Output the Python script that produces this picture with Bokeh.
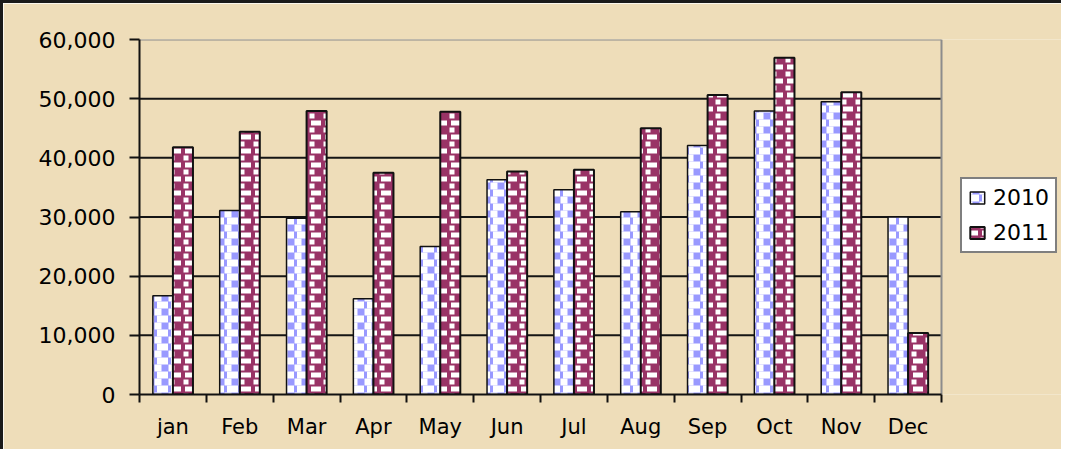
from bokeh.plotting import figure
from bokeh.models import (ColumnDataSource, Range1d, FixedTicker, NumeralTickFormatter,
                          Legend, LegendItem)
from bokeh.transform import dodge
from bokeh.embed import file_html
from bokeh.resources import INLINE

# ---- data ----
months = ["jan", "Feb", "Mar", "Apr", "May", "Jun", "Jul", "Aug", "Sep", "Oct", "Nov", "Dec"]
sales_2010 = [16700, 31100, 29800, 16200, 25000, 36300, 34600, 30900, 42100, 47900, 49500, 30000]
sales_2011 = [41800, 44400, 47900, 37500, 47800, 37700, 38000, 45000, 50600, 56900, 51100, 10400]
series_names = ["2010", "2011"]
y_ticks = [0, 10000, 20000, 30000, 40000, 50000, 60000]

n = len(months)
y_max = y_ticks[-1]
centers = [i + 0.5 for i in range(n)]
boundaries = list(range(n + 1))
src = ColumnDataSource(dict(x=centers, month=months, s2010=sales_2010, s2011=sales_2011))

PARCH = "#EEDDB9"
FONT = "DejaVu Sans"
BLUE = "#9999FF"
MAROON = "#993366"

# layout: the plotting frame runs to the right edge of the canvas so that the
# legend (placed to the right of the bar area) is not clipped
CANVAS_W, CANVAS_H = 1061, 449
LEFT, TOP, BOTTOM = 136, 36, 58
BAR_AREA_W = 802                      # pixel width of the 12 month slots
FRAME_W = CANVAS_W - LEFT
x_end = n * FRAME_W / BAR_AREA_W

p = figure(width=CANVAS_W, height=CANVAS_H, output_backend="svg", toolbar_location=None,
           x_range=Range1d(0, x_end), y_range=Range1d(0, y_max),
           min_border_left=LEFT, min_border_right=0, min_border_top=TOP, min_border_bottom=BOTTOM,
           background_fill_color=PARCH, border_fill_color=PARCH,
           outline_line_color=None,
           styles={"border-top": "3px solid #1a1a1a", "border-left": "3px solid #1a1a1a"})

# horizontal grid lines (only across the month slots)
grid_y = y_ticks[1:-1]
p.segment(x0=[0] * len(grid_y), x1=[n] * len(grid_y), y0=grid_y, y1=grid_y,
          line_color="#151515", line_width=2)
# grey plot-area border (top and right)
p.segment(x0=[0, n], x1=[n, n], y0=[y_max, 0], y1=[y_max, y_max],
          line_color="#8C8C8C", line_width=2)

x2010 = dodge("x", -0.15, range=p.x_range)
x2011 = dodge("x", 0.15, range=p.x_range)

# 2010: blue / white checkerboard (cross + centre dash layered)
r1a = p.vbar(x=x2010, top="s2010", width=0.3, source=src,
             fill_color="#FFFFFF", line_color=None,
             hatch_pattern="cross", hatch_color=BLUE, hatch_scale=14, hatch_weight=7)
r1b = p.vbar(x=x2010, top="s2010", width=0.3, source=src,
             fill_alpha=0, line_color="#111111", line_width=1.5,
             hatch_pattern="horizontal_dash", hatch_color="#FFFFFF", hatch_scale=14, hatch_weight=7)

# 2011: maroon with white checker spots
r2a = p.vbar(x=x2011, top="s2011", width=0.3, source=src,
             fill_color="#FFFFFF", line_color=None,
             hatch_pattern="cross", hatch_color=MAROON, hatch_scale=14, hatch_weight=9)
r2b = p.vbar(x=x2011, top="s2011", width=0.3, source=src,
             fill_alpha=0, line_color="#111111", line_width=2,
             hatch_pattern="horizontal_dash", hatch_color="#FFFFFF", hatch_scale=14, hatch_weight=5)

# x axis: labels at slot centres, tick marks at slot boundaries
p.xaxis.bounds = (0, n)
p.xaxis.ticker = FixedTicker(ticks=centers, minor_ticks=boundaries)
p.xaxis.major_label_overrides = {c: m for c, m in zip(centers, months)}
p.xaxis.major_tick_out = 0
p.xaxis.major_tick_in = 0
p.xaxis.minor_tick_out = 8
p.xaxis.minor_tick_in = 0
p.xaxis.minor_tick_line_color = "#111111"
p.xaxis.minor_tick_line_width = 2
p.xaxis.major_label_standoff = 12
p.xaxis.major_label_text_font_size = "21px"
p.xgrid.visible = False
p.ygrid.visible = False

# y axis
p.yaxis.ticker = FixedTicker(ticks=y_ticks)
p.yaxis.formatter = NumeralTickFormatter(format="0,0")
p.yaxis.major_tick_out = 10
p.yaxis.major_tick_in = 0
p.yaxis.minor_tick_out = 0
p.yaxis.minor_tick_in = 0
p.yaxis.major_tick_line_color = "#111111"
p.yaxis.major_tick_line_width = 2
p.yaxis.major_label_standoff = 14
p.yaxis.major_label_text_font_size = "22px"

for ax in (p.xaxis, p.yaxis):
    ax.axis_line_color = "#111111"
    ax.axis_line_width = 2
    ax.major_label_text_font = FONT
    ax.major_label_text_color = "#000000"

legend = Legend(items=[LegendItem(label=series_names[0], renderers=[r1a, r1b]),
                       LegendItem(label=series_names[1], renderers=[r2a, r2b])],
                location=(821, 141), orientation="vertical",
                label_text_font=FONT, label_text_font_size="22px", label_text_color="#000000",
                glyph_width=18, glyph_height=15, label_standoff=7, label_height=24,
                padding=6, spacing=10, margin=0,
                border_line_color="#000000", border_line_width=2,
                background_fill_color="#FFFFFF", background_fill_alpha=1.0)
p.add_layout(legend)

open("out.html", "w").write(file_html(p, INLINE))
